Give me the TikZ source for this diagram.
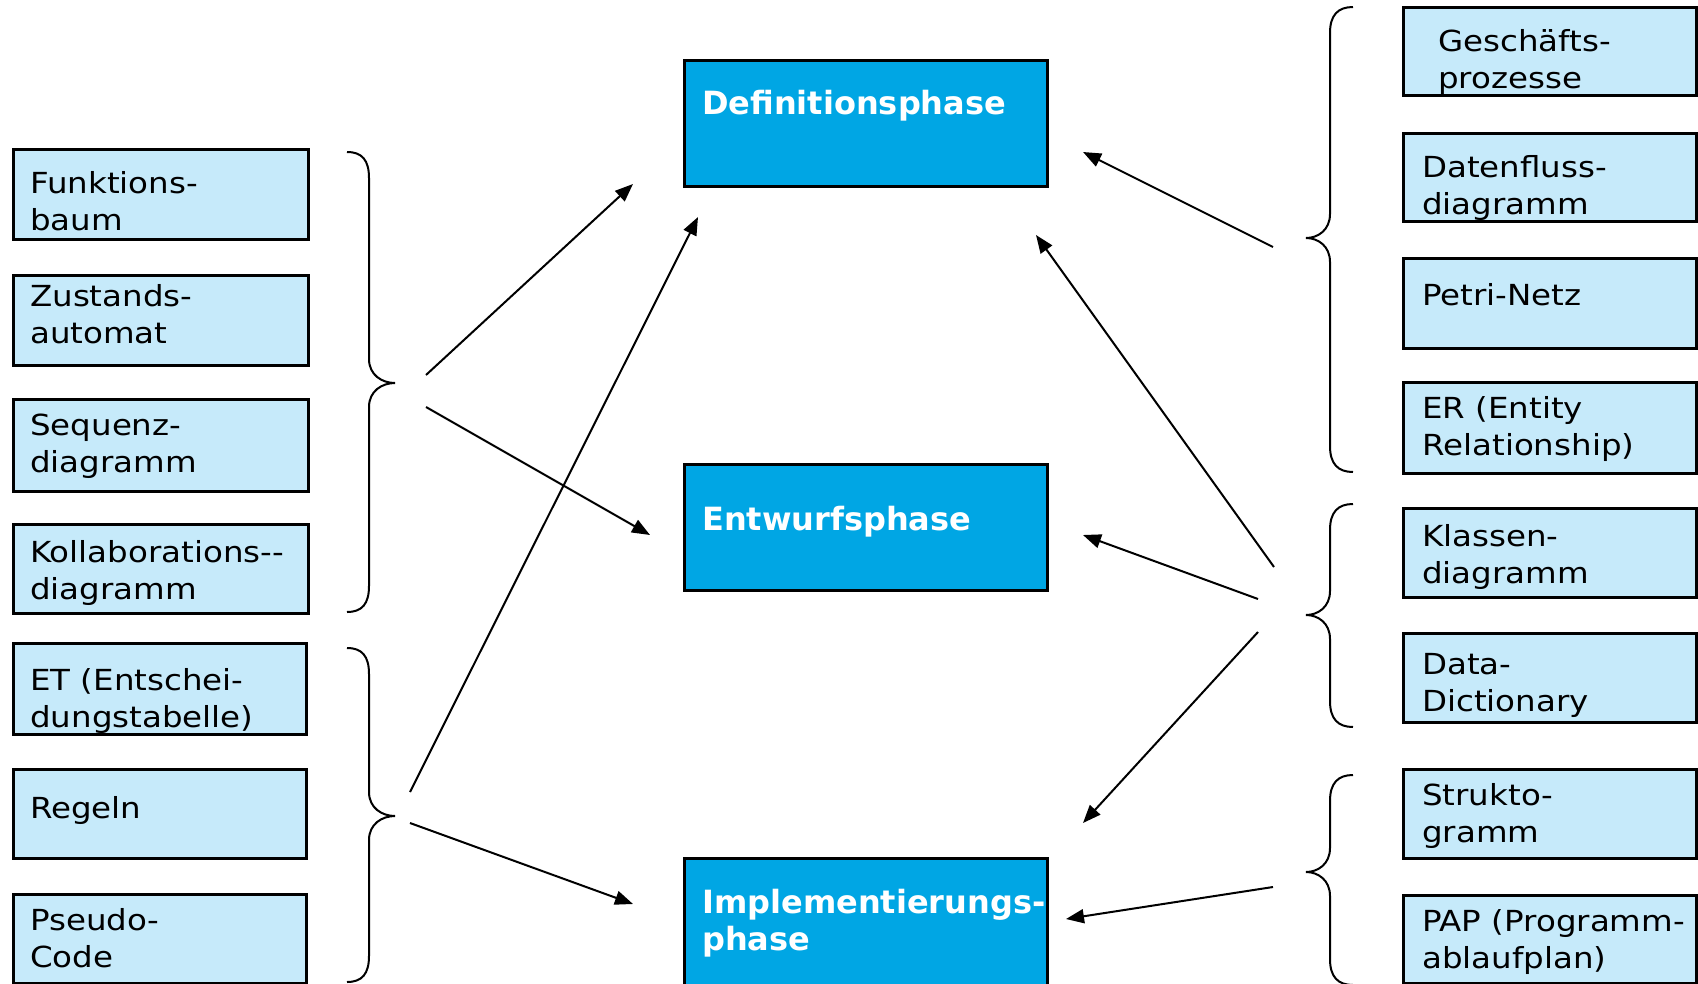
\documentclass[tikz,border=0pt]{standalone}
\usepackage{fontspec}
\setmainfont{DejaVu Sans}
\newfontfamily\toolfont{DejaVu Sans}[FakeStretch=1.12]
\usetikzlibrary{arrows.meta}
\definecolor{toolfill}{RGB}{198,234,250}
\definecolor{phasefill}{RGB}{0,166,228}

% box with its upper-left corner at (#3,#4) and lower-right corner at (#5,#6)
\newcommand\mkbox[6]{%
  \node[#1, minimum width=#5-#3, minimum height=#6-#4] (#2) at (#3,#4) {};}
% curly braces: top y, tip y, bottom y
\newcommand\drawbraceL[3]{%
  \draw[brace] (347,#1) .. controls (362,#1) and (369,#1+8) .. (369,#1+26)
    -- (369,#2-24) .. controls (369,#2-8) and (382,#2) .. (395,#2)
    .. controls (382,#2) and (369,#2+8) .. (369,#2+24)
    -- (369,#3-26) .. controls (369,#3-8) and (362,#3) .. (347,#3);}
\newcommand\drawbraceR[3]{%
  \draw[brace] (1353,#1) .. controls (1338,#1) and (1330,#1+8) .. (1330,#1+26)
    -- (1330,#2-24) .. controls (1330,#2-8) and (1318,#2) .. (1306,#2)
    .. controls (1318,#2) and (1330,#2+8) .. (1330,#2+24)
    -- (1330,#3-26) .. controls (1330,#3-8) and (1338,#3) .. (1353,#3);}

\tikzset{
  toolbox/.style={draw=black, line width=2.5pt, fill=toolfill, inner sep=0pt,
    anchor=north west},
  phasebox/.style={draw=black, line width=2.5pt, fill=phasefill, inner sep=0pt,
    anchor=north west},
  tooltext/.style={anchor=base west, inner sep=0pt,
    font=\toolfont\fontsize{29}{37.5}\selectfont},
  phasetext/.style={anchor=base west, inner sep=0pt, text=white,
    font=\fontsize{32}{37}\selectfont\bfseries},
  link/.style={line width=2pt, -{Triangle[length=18pt,width=14pt]}},
  brace/.style={line width=2pt},
}

\begin{document}
\begin{tikzpicture}[x=1pt, y=-1pt]
\useasboundingbox (0,0) rectangle (1698,983);

% ---- phases ----
\mkbox{phasebox}{def}{683}{59}{1046}{185}
\mkbox{phasebox}{ent}{683}{463}{1046}{589}
\mkbox{phasebox}{imp}{683}{857}{1046}{990}
\node[phasetext] (def-t) at (702,114) {Definitionsphase};
\node[phasetext] (ent-t) at (702,530) {Entwurfsphase};
\node[phasetext] (imp-t) at (702,913) {\parbox[t]{400pt}{Implementierungs-\\phase}};

% ---- methods, left column ----
\mkbox{toolbox}{fb}{12}{148}{307}{238}
\mkbox{toolbox}{za}{12}{274}{307}{364}
\mkbox{toolbox}{sd}{12}{398}{307}{490}
\mkbox{toolbox}{kd}{12}{523}{307}{612}
\mkbox{toolbox}{et}{12}{642}{305}{733}
\mkbox{toolbox}{rg}{12}{768}{305}{857}
\mkbox{toolbox}{pc}{12}{893}{305}{982}
\node[tooltext] (fb-t) at (30,193) {\parbox[t]{400pt}{Funktions-\\baum}};
\node[tooltext] (za-t) at (30,306) {\parbox[t]{400pt}{Zustands-\\automat}};
\node[tooltext] (sd-t) at (30,435) {\parbox[t]{400pt}{Sequenz-\\diagramm}};
\node[tooltext] (kd-t) at (30,562) {\parbox[t]{400pt}{Kollaborations-{}-\\diagramm}};
\node[tooltext] (et-t) at (30,690) {\parbox[t]{400pt}{ET (Entschei-\\dungstabelle)}};
\node[tooltext] (rg-t) at (30,818) {Regeln};
\node[tooltext] (pc-t) at (30,930) {\parbox[t]{400pt}{Pseudo-\\Code}};

% ---- methods, right column ----
\mkbox{toolbox}{gp}{1402}{6}{1695}{94}
\mkbox{toolbox}{df}{1402}{132}{1695}{220}
\mkbox{toolbox}{pn}{1402}{257}{1695}{347}
\mkbox{toolbox}{er}{1402}{381}{1695}{472}
\mkbox{toolbox}{kl}{1402}{507}{1695}{596}
\mkbox{toolbox}{dd}{1402}{632}{1695}{721}
\mkbox{toolbox}{sg}{1402}{768}{1695}{857}
\mkbox{toolbox}{pap}{1402}{894}{1695}{982}
\node[tooltext] (gp-t) at (1438,51) {\parbox[t]{400pt}{Geschäfts-\\prozesse}};
\node[tooltext] (df-t) at (1422,177) {\parbox[t]{400pt}{Datenfluss-\\diagramm}};
\node[tooltext] (pn-t) at (1422,305) {Petri-Netz};
\node[tooltext] (er-t) at (1422,418) {\parbox[t]{400pt}{ER (Entity\\Relationship)}};
\node[tooltext] (kl-t) at (1422,546) {\parbox[t]{400pt}{Klassen-\\diagramm}};
\node[tooltext] (dd-t) at (1422,674) {\parbox[t]{400pt}{Data-\\Dictionary}};
\node[tooltext] (sg-t) at (1422,805) {\parbox[t]{400pt}{Strukto-\\gramm}};
\node[tooltext] (pap-t) at (1422,931) {\parbox[t]{400pt}{PAP (Programm-\\ablaufplan)}};

% ---- braces grouping the methods ----
\drawbraceL{152}{383}{612}
\drawbraceL{648}{816}{982}
\drawbraceR{7}{238}{472}
\drawbraceR{504}{615}{727}
\drawbraceR{775}{872}{985}

% ---- arrow end points ----
\coordinate (l1a) at (426,375);  \coordinate (l1b) at (426,407);
\coordinate (l2a) at (410,792);  \coordinate (l2b) at (410,823);
\coordinate (r1)  at (1273,247);
\coordinate (r2a) at (1274,567); \coordinate (r2b) at (1258,599);
\coordinate (r2c) at (1258,632);
\coordinate (r3)  at (1273,887);
\coordinate (def-ll) at (633,184);  \coordinate (def-lb) at (698,217);
\coordinate (def-rr) at (1083,152); \coordinate (def-rb) at (1036,235);
\coordinate (ent-l)  at (650,535);  \coordinate (ent-r)  at (1083,535);
\coordinate (imp-l)  at (633,904);  \coordinate (imp-rt) at (1083,823);
\coordinate (imp-r)  at (1066,919);

% ---- arrows ----
\draw[link] (l1a) -- (def-ll);
\draw[link] (l1b) -- (ent-l);
\draw[link] (l2a) -- (def-lb);
\draw[link] (l2b) -- (imp-l);
\draw[link] (r1)  -- (def-rr);
\draw[link] (r2a) -- (def-rb);
\draw[link] (r2b) -- (ent-r);
\draw[link] (r2c) -- (imp-rt);
\draw[link] (r3)  -- (imp-r);
\end{tikzpicture}
\end{document}
